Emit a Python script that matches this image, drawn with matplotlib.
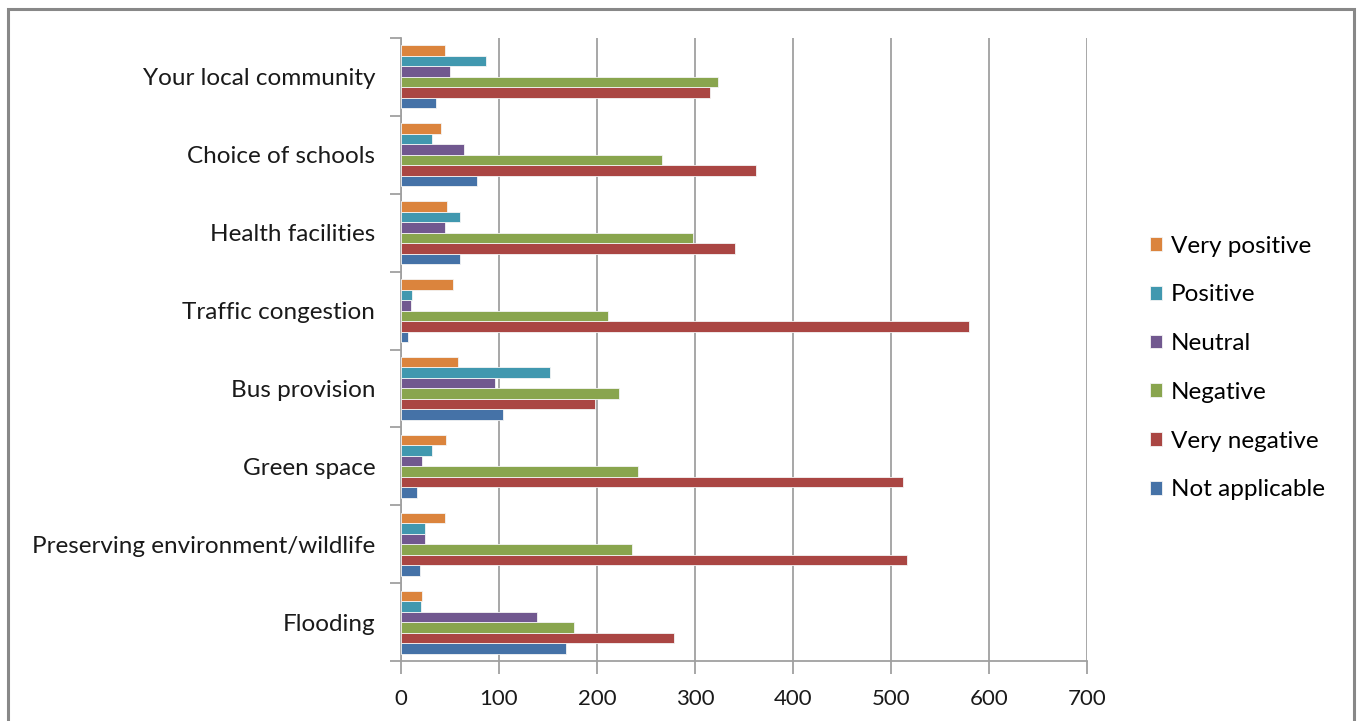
import matplotlib.pyplot as plt
import numpy as np
from matplotlib.patches import Rectangle

plt.rcParams['font.family'] = ['Lato', 'DejaVu Sans']

# categories, bottom to top
categories = ["Flooding", "Preserving environment/wildlife", "Green space",
              "Bus provision", "Traffic congestion", "Health facilities",
              "Choice of schools", "Your local community"]

# series (values per category, same order as categories)
not_applicable = [168, 19, 16, 104, 7, 60, 78, 36]
very_negative = [279, 516, 512, 198, 580, 341, 362, 315]
negative = [177, 236, 242, 222, 211, 298, 266, 323]
neutral = [139, 24, 21, 96, 10, 45, 64, 50]
positive = [20, 24, 32, 152, 11, 60, 32, 87]
very_positive = [21, 45, 46, 58, 53, 47, 41, 45]

series_names = ["Not applicable", "Very negative", "Negative",
                "Neutral", "Positive", "Very positive"]
series_vals = [not_applicable, very_negative, negative,
               neutral, positive, very_positive]
colors = ["#4572A7", "#AA4643", "#89A54E", "#71588F", "#4198AF", "#DB843D"]

fig = plt.figure(figsize=(13.62, 7.21), dpi=100)
ax = fig.add_axes([401 / 1362, 1 - 661 / 721, (1087 - 401) / 1362, (661 - 38) / 721])

y = np.arange(len(categories))
bh = 0.135
handles = []
for i, (name, vals, c) in enumerate(zip(series_names, series_vals, colors)):
    off = (i - 2.5) * bh
    b = ax.barh(y + off, vals, height=bh, color=c, edgecolor="#f4f4f4",
                linewidth=0.6, label=name, zorder=3)
    handles.append(b)

ax.set_xlim(0, 700)
ax.set_ylim(-0.5, len(categories) - 0.5)
ax.set_xticks(np.arange(0, 701, 100))
ax.grid(axis="x", color="#a0a0a0", linewidth=1.3, zorder=0)

# category labels centred, tick marks between groups
ax.set_yticks(y)
ax.set_yticklabels(categories, fontsize=17.5, color="#1a1a1a")
ax.tick_params(axis="y", length=0, pad=18.5)
ax.set_yticks(np.arange(-0.5, len(categories)), minor=True)
ax.tick_params(axis="y", which="minor", length=8, color="#a0a0a0", width=1.3)
ax.tick_params(axis="x", length=9, color="#a0a0a0", width=1.3,
               labelsize=16, labelcolor="#1a1a1a", pad=11)

for s in ["top", "right"]:
    ax.spines[s].set_visible(False)
for s in ["left", "bottom"]:
    ax.spines[s].set_color("#a0a0a0")
    ax.spines[s].set_linewidth(1.3)

leg = fig.legend(handles[::-1], series_names[::-1], loc="center left",
                 bbox_to_anchor=(1128 / 1362, 1 - 368 / 721), frameon=False,
                 fontsize=17.5, handlelength=0.5, handleheight=0.5,
                 handletextpad=0.37, labelspacing=1.14)

# outer chart frame
fig.add_artist(Rectangle((8 / 1362, -0.05), (1354 - 8) / 1362, 1.05 - 9 / 721,
                         transform=fig.transFigure, fill=False,
                         edgecolor="#888888", linewidth=2.2))

plt.savefig("out.png", dpi=100)
